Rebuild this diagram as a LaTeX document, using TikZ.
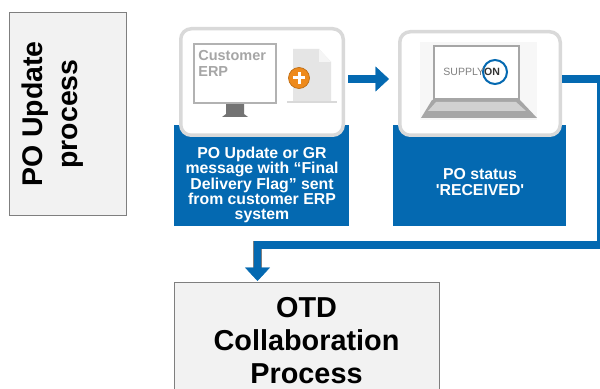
\documentclass[tikz,border=0pt]{standalone}
\usepackage{fontspec}
\setmainfont{Liberation Sans}
\usepackage{xcolor}
\usepackage{tikz}
\usetikzlibrary{arrows.meta}
\usetikzlibrary{positioning, shapes.misc}
\definecolor{flowblue}{HTML}{0469B1}
\definecolor{edgegray}{HTML}{7F7F7F}
\definecolor{cardgray}{HTML}{D9D9D9}
\definecolor{iconorange}{HTML}{EE8A1C}
\tikzset{
process box/.style = { rectangle, draw = edgegray, fill = black!5, font = \bfseries, align = center },
caption box/.style = { rectangle, draw = none, fill = flowblue, text = white, minimum width = 35mm, minimum height = 20.2mm, align = center, font = \fontsize{9}{8.7}\selectfont\bfseries },
icon card/.style = { rectangle, draw = cardgray, fill = white, line width = 0.7mm, rounded corners = 6pt },
flow line/.style = { draw = edgegray, line width = 0.25pt, double = flowblue, double distance = 4.4pt, -{Triangle[length = 2.7mm, width = 5mm, fill = flowblue, color = flowblue]} },
}
\begin{document}
\begin{tikzpicture}[x = 0.2mm, y = -0.2mm]
    \useasboundingbox (0, 0) rectangle (600, 389);
    \clip (0, 0) rectangle (600, 389);
    % boxes of the process
    \node[process box, minimum width = 23.4mm, minimum height = 40.6mm] (update) at (67.5, 113.5) {};
    \node[rotate = 90, align = center, font = \fontsize{16.2}{20}\selectfont\bfseries] (update text) at (53, 114) {PO Update\\process};
    \node[process box, minimum width = 53mm, minimum height = 23.4mm, font = \fontsize{16.4}{19}\selectfont\bfseries] (otd) at (306.5, 340.5) {OTD\\Collaboration\\Process};
    % blue captions, cards on top
    \node[caption box, text depth = 0pt] (send) at (261.5, 175.5) {};
    \node[caption box, minimum width = 34.6mm] (status) at (479.5, 175.5) {};
    \node[text = white, align = center, font = \fontsize{9}{8.7}\selectfont\bfseries] (send text) at (262, 185) {PO Update or GR\\message with “Final\\Delivery Flag” sent\\from customer ERP\\system};
    \node[text = white, align = center, font = \fontsize{9}{8.7}\selectfont\bfseries] (status text) at (480, 182) {PO status\\\textquotesingle RECEIVED\textquotesingle};
    \node[icon card, minimum width = 32.5mm, minimum height = 21.3mm] (erp card) at (262, 82) {};
    \node[icon card, minimum width = 32.1mm, minimum height = 20.7mm] (portal card) at (480, 83.5) {};
    % customer monitor
    \fill[black!55] (226, 104) -- (244, 104) -- (244, 114) -- (248, 117) -- (222, 117) -- (226, 114) -- cycle;
    \node[draw = black!30, fill = white, line width = 0.45mm, minimum width = 16.4mm, minimum height = 11.8mm] (monitor) at (235, 73.5) {};
    \node[text = black!35, align = left, anchor = north west, inner sep = 0pt, font = \fontsize{8.25}{9}\selectfont\bfseries] (monitor text) at (198, 50) {Customer\\ERP};
    % new document
    \fill[black!15] (287, 101.5) rectangle (337, 103);
    \fill[black!10] (293, 49) -- (319, 49) -- (331, 62) -- (331, 101) -- (293, 101) -- cycle;
    \fill[black!4] (319, 49) -- (331, 62) -- (319, 62) -- cycle;
    \node[circle, fill = iconorange, draw = iconorange!80!black, minimum size = 4.2mm, inner sep = 0pt] (plus) at (299, 78) {};
    \fill[white] (297.5, 72) rectangle (300.5, 84);
    \fill[white] (293, 76.5) rectangle (305, 79.5);
    % laptop
    \fill[black!3] (420, 42) rectangle (537, 120);
    \fill[black!35] (432, 100) -- (520, 100) -- (537, 118) -- (421, 118) -- cycle;
    \fill[black!18] (436, 102) -- (516, 102) -- (526, 111) -- (428, 111) -- cycle;
    \node[draw = black!35, fill = white, line width = 0.4mm, minimum width = 17mm, minimum height = 10.6mm] (screen) at (476, 73) {};
    \node[circle, draw = flowblue, line width = 0.4mm, minimum size = 4.8mm, inner sep = 0pt] (ring) at (495, 72) {};
    \node[anchor = west, inner sep = 0pt, text = black!50, font = \fontsize{6}{6}\selectfont] (supply) at (443, 72) {SUPPLY\textcolor{black!80}{\bfseries ON}};
    % flow
    \coordinate (right top) at (601, 79);
    \coordinate (right bottom) at (601, 245);
    \coordinate (left bottom) at (257.5, 245);
    \coordinate (otd in) at (257.5, 281);
    \draw[flow line] (erp card.east |- 0, 79) ++(3, 0) -- (389, 79);
    \draw[flow line] (portal card.east |- right top) -- (right top) -- (right bottom) -- (left bottom) -- (otd in);
\end{tikzpicture}
\end{document}
